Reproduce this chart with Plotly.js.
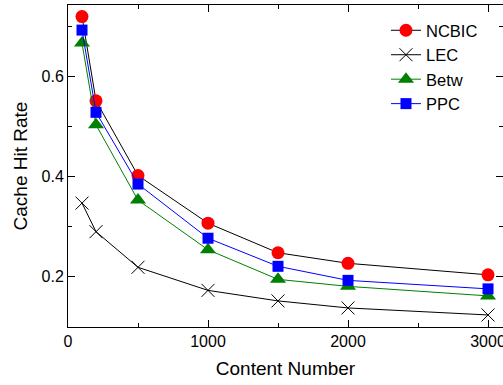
<!DOCTYPE html>
<html>
<head>
<meta charset="utf-8">
<script src="https://cdn.plot.ly/plotly-3.0.1.min.js"></script>
<style>html,body{margin:0;padding:0;overflow:hidden;background:#fff}</style>
</head>
<body>
<div id="chart" style="width:503px;height:385px"></div>
<script>
const contentNumber = [100, 200, 500, 1000, 1500, 2000, 3000];
const ncbic = [0.719, 0.551, 0.402, 0.307, 0.248, 0.227, 0.204];
const lec   = [0.347, 0.290, 0.219, 0.173, 0.152, 0.138, 0.124];
const betw  = [0.666, 0.503, 0.353, 0.254, 0.195, 0.181, 0.162];
const ppc   = [0.692, 0.528, 0.385, 0.277, 0.221, 0.193, 0.176];
const seriesNames = ["NCBIC", "LEC", "Betw", "PPC"];

const FONT = "Liberation Sans, Arial, sans-serif";

const traces = [
  {x: contentNumber, y: ncbic, name: seriesNames[0], mode: "lines+markers",
   line: {color: "#000000", width: 1},
   marker: {symbol: "circle", size: 13, color: "#ff0000", line: {width: 0}}},
  {x: contentNumber, y: lec, name: seriesNames[1], mode: "lines+markers",
   line: {color: "#000000", width: 1},
   marker: {symbol: "x-thin-open", size: 13, color: "#000000", line: {width: 1, color: "#000000"}}},
  {x: contentNumber, y: betw, name: seriesNames[2], mode: "lines+markers",
   line: {color: "#008000", width: 1},
   marker: {symbol: "triangle-up", size: 14, color: "#008000", line: {width: 0}}},
  {x: contentNumber, y: ppc, name: seriesNames[3], mode: "lines+markers",
   line: {color: "#0000ff", width: 1},
   marker: {symbol: "square", size: 11, color: "#0000ff", line: {width: 0}}}
];

const layout = {
  width: 503, height: 385,
  margin: {l: 68, r: 0, t: 5, b: 58},
  paper_bgcolor: "#ffffff", plot_bgcolor: "#ffffff",
  font: {family: FONT, color: "#000000", size: 16},
  showlegend: true,
  legend: {x: 0.731, y: 0.975, xanchor: "left", yanchor: "top",
           bgcolor: "rgba(0,0,0,0)", font: {family: FONT, size: 16.5, color: "#000"},
           tracegroupgap: 0},
  xaxis: {
    range: [0, 3107], showgrid: false, zeroline: false,
    showline: true, linecolor: "#000", linewidth: 1, mirror: "ticks",
    ticks: "inside", ticklen: 7, tickcolor: "#000", tickwidth: 1,
    tick0: 0, dtick: 1000, ticklabeloverflow: "allow",
    minor: {ticks: "inside", ticklen: 4, dtick: 500, tick0: 0, tickcolor: "#000", showgrid: false},
    tickfont: {family: FONT, size: 16},
    title: {text: "Content Number", font: {family: FONT, size: 19}, standoff: 12}
  },
  yaxis: {
    range: [0.1, 0.742], showgrid: false, zeroline: false,
    showline: true, linecolor: "#000", linewidth: 1, mirror: "ticks",
    ticks: "inside", ticklen: 7, tickcolor: "#000", tickwidth: 1,
    tick0: 0.2, dtick: 0.2, tickformat: ".1f",
    minor: {ticks: "inside", ticklen: 4, dtick: 0.1, tick0: 0.1, tickcolor: "#000", showgrid: false},
    tickfont: {family: FONT, size: 16},
    title: {text: "Cache Hit Rate", font: {family: FONT, size: 19}, standoff: 8}
  }
};

Plotly.newPlot("chart", traces, layout, {staticPlot: true, displayModeBar: false});
</script>
</body>
</html>
